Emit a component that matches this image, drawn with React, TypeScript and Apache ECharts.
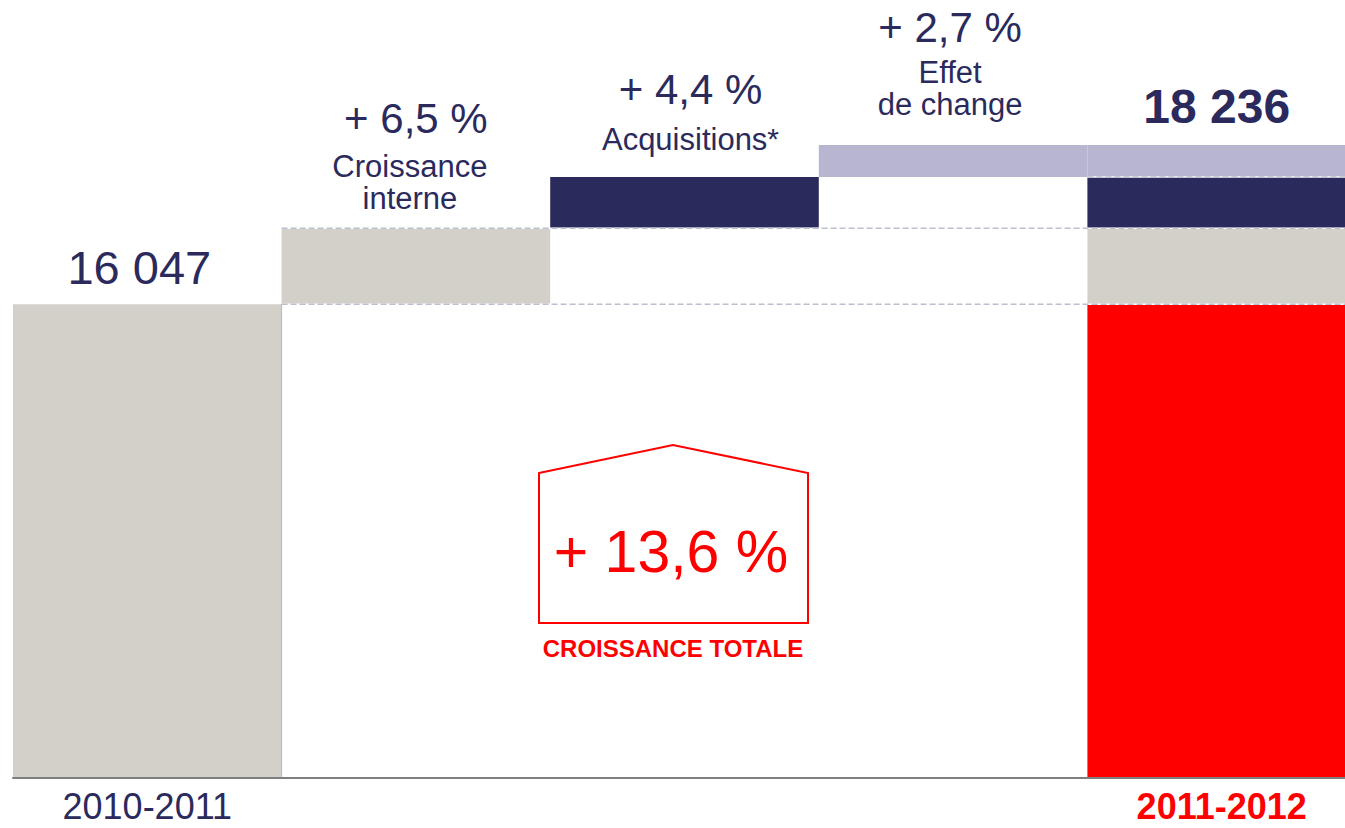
import React, { useEffect, useRef } from "react";
import * as echarts from "echarts";

// ---- data ----
const categories = ["2010-2011", "", "", "", "2011-2012"];
const startValue = 16047;
const endValue = 18236;
const internalGrowth = 1043; // + 6,5 %
const acquisitions = 706; // + 4,4 %
const fxEffect = 440; // + 2,7 %
const growthLabels = ["+ 6,5 %", "+ 4,4 %", "+ 2,7 %"];
const totalGrowthLabel = "+ 13,6 %";
const totalGrowthCaption = "CROISSANCE TOTALE";

const NAVY = "#2b2a5c";
const GRAY = "#d3d0ca";
const LILAC = "#b7b5cf";
const RED = "#ff0000";
const FONT = "'Liberation Sans', Arial, sans-serif";

const fmt = (n: number) => String(n).replace(/\B(?=(\d{3})+(?!\d))/g, " ");

export default function App() {
  const ref = useRef<HTMLDivElement>(null);

  useEffect(() => {
    if (!ref.current) return;
    const chart = echarts.init(ref.current, null, { renderer: "svg" });

    const lvl1 = startValue;
    const lvl2 = startValue + internalGrowth;
    const lvl3 = lvl2 + acquisitions;

    const placeholder = [0, lvl1, lvl2, lvl3, 0];
    const baseData: any[] = [
      {
        value: startValue,
        itemStyle: { color: GRAY },
        label: {
          show: true,
          position: "top",
          distance: 14,
          offset: [-8, 0],
          formatter: fmt(startValue),
          fontSize: 47,
          lineHeight: 46,
          color: NAVY,
          fontFamily: FONT,
        },
      },
      0,
      0,
      0,
      { value: startValue, itemStyle: { color: RED } },
    ];
    const internalData: any[] = [
      0,
      {
        value: internalGrowth,
        label: {
          show: true,
          position: "top",
          distance: 14,
          offset: [-6, 0],
          formatter: `{a|${growthLabels[0]}}\n{b|Croissance}\n{b|interne}`,
          rich: {
            a: { fontSize: 42, lineHeight: 63, color: NAVY, fontFamily: FONT, padding: [0, 0, 0, 12] },
            b: { fontSize: 31, lineHeight: 32, color: NAVY, fontFamily: FONT },
          },
        },
      },
      0,
      0,
      internalGrowth,
    ];
    const acqData: any[] = [
      0,
      0,
      {
        value: acquisitions,
        label: {
          show: true,
          position: "top",
          distance: 21,
          offset: [6, 0],
          formatter: `{a|${growthLabels[1]}}\n{b|Acquisitions}{s|*}`,
          rich: {
            a: { fontSize: 42, lineHeight: 69, color: NAVY, fontFamily: FONT },
            b: { fontSize: 31, lineHeight: 32, color: NAVY, fontFamily: FONT },
            s: { fontSize: 30, lineHeight: 12, color: NAVY, fontFamily: FONT, verticalAlign: "top" },
          },
        },
      },
      0,
      acquisitions,
    ];
    const fxData: any[] = [
      0,
      0,
      0,
      {
        value: fxEffect,
        label: {
          show: true,
          position: "top",
          distance: 24,
          offset: [-3, 0],
          formatter: `{a|${growthLabels[2]}}\n{b|Effet}\n{b|de change}`,
          rich: {
            a: { fontSize: 42, lineHeight: 58, color: NAVY, fontFamily: FONT },
            b: { fontSize: 31, lineHeight: 32, color: NAVY, fontFamily: FONT },
          },
        },
      },
      {
        value: fxEffect,
        label: {
          show: true,
          position: "top",
          distance: 15,
          offset: [-5, 0],
          formatter: fmt(endValue),
          fontSize: 48,
          lineHeight: 46,
          fontWeight: "bold",
          color: NAVY,
          fontFamily: FONT,
        },
      },
    ];

    const dashedLevel = (y: number, x0: number, x1: number) => [
      {
        type: "line",
        xAxisIndex: 1,
        data: [
          [x0, y],
          [x1, y],
        ],
        symbol: "none",
        silent: true,
        lineStyle: { color: "#ffffff", width: 1.5 },
        z: 5,
      },
      {
        type: "line",
        xAxisIndex: 1,
        data: [
          [x0, y],
          [x1, y],
        ],
        symbol: "none",
        silent: true,
        lineStyle: { color: "#bcc0cc", width: 1.5, type: [6, 3] },
        z: 6,
      },
    ];

    const yMin = 9530;

    chart.setOption({
      animation: false,
      grid: {
        left: 13,
        width: 1343,
        top: 40,
        bottom: 50,
        containLabel: false,
        outerBoundsMode: "none",
      },
      xAxis: [
        {
          type: "category",
          data: categories,
          axisTick: { show: false },
          axisLine: { show: true, lineStyle: { color: "#7f7f7f", width: 2 } },
          axisLabel: {
            margin: 14,
            interval: 0,
            formatter: (v: string, i: number) =>
              i === 0 ? `{a|${v}}` : i === categories.length - 1 ? `{b|${v}}` : "",
            rich: {
              a: { fontSize: 36, lineHeight: 28, color: NAVY, fontFamily: FONT },
              b: { fontSize: 36, lineHeight: 28, color: RED, fontWeight: "bold", fontFamily: FONT },
            },
          },
          z: 10,
        },
        { type: "value", min: 0, max: 5, show: false },
      ],
      yAxis: {
        type: "value",
        min: yMin,
        max: 19680,
        show: false,
        splitLine: { show: false },
      },
      series: [
        {
          type: "bar",
          stack: "w",
          data: placeholder,
          itemStyle: { color: "transparent" },
          barCategoryGap: 0,
          barWidth: "100%",
          silent: true,
        },
        { type: "bar", stack: "w", data: baseData, barWidth: "100%", silent: true },
        { type: "bar", stack: "w", data: internalData, itemStyle: { color: GRAY }, barWidth: "100%", silent: true },
        { type: "bar", stack: "w", data: acqData, itemStyle: { color: NAVY }, barWidth: "100%", silent: true },
        { type: "bar", stack: "w", data: fxData, itemStyle: { color: LILAC }, barWidth: "100%", silent: true },
        ...dashedLevel(lvl1, 1, 5),
        ...dashedLevel(lvl2, 1, 5),
        ...dashedLevel(lvl3, 4, 5),
        {
          type: "line",
          xAxisIndex: 1,
          data: [
            [1, yMin],
            [1, lvl1],
          ],
          symbol: "none",
          silent: true,
          lineStyle: { color: "#b6b5d0", width: 1 },
          z: 6,
        },
      ],
      graphic: [
        {
          type: "polygon",
          shape: {
            points: [
              [539, 473],
              [673, 445],
              [808, 473],
              [808, 623],
              [539, 623],
            ],
          },
          style: { fill: "none", stroke: RED, lineWidth: 2 },
          z: 20,
        },
        {
          type: "text",
          x: 671,
          y: 552,
          style: {
            text: totalGrowthLabel,
            fontSize: 59,
            fontFamily: FONT,
            fill: RED,
            align: "center",
            verticalAlign: "middle",
          },
          z: 20,
        },
        {
          type: "text",
          x: 673,
          y: 648,
          style: {
            text: totalGrowthCaption,
            fontSize: 24,
            fontWeight: "bold",
            fontFamily: FONT,
            fill: RED,
            align: "center",
            verticalAlign: "middle",
          },
          z: 20,
        },
      ],
    });

    return () => chart.dispose();
  }, []);

  return (
    <div
      ref={ref}
      style={{ position: "fixed", left: 0, top: 0, width: 1345, height: 828, background: "#fff" }}
    />
  );
}
